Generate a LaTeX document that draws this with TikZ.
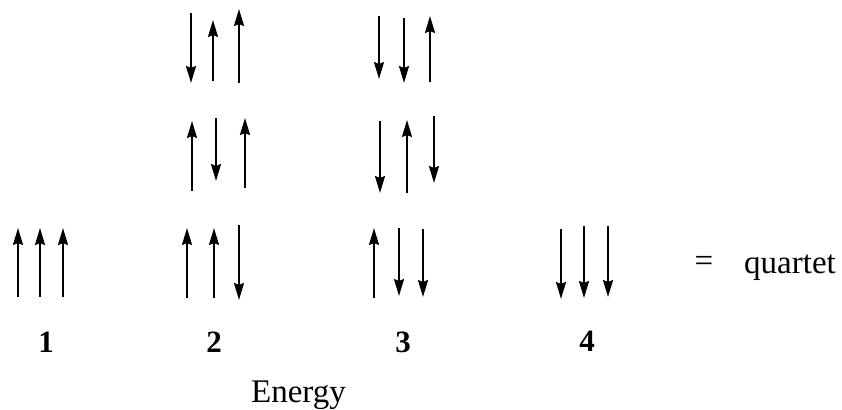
\documentclass[tikz,border=0pt]{standalone}
\usepackage{fontspec}
\setmainfont{Liberation Serif}
\usetikzlibrary{arrows.meta}
\newcommand\spinarrow[4]{%
  \coordinate (#1s) at (#2,#3);
  \coordinate (#1e) at (#2,#4);
  \draw[spin] (#1s) -- (#1e);}
\begin{document}
\begin{tikzpicture}[x=1pt,y=-1pt,
  spin/.style={line width=2pt,-{Stealth[length=17pt,width=10pt,inset=2pt]}},
  txt/.style={font=\fontsize{33}{40}\selectfont,inner sep=0pt,anchor=base},
  num/.style={font=\fontsize{31}{38}\selectfont\bfseries,inner sep=0pt,anchor=base}]
\useasboundingbox (0,0) rectangle (842,409);
% column 1
\spinarrow{a1}{18}{297}{228}
\spinarrow{a2}{40}{297}{228}
\spinarrow{a3}{63}{297}{228}
% column 2 bottom
\spinarrow{b1}{187}{298}{228}
\spinarrow{b2}{214}{298}{228}
\spinarrow{b3}{239}{225}{300}
% column 2 middle
\spinarrow{c1}{192}{191}{121}
\spinarrow{c2}{216}{118}{181}
\spinarrow{c3}{245}{188}{118}
% column 2 top
\spinarrow{d1}{191}{13}{83}
\spinarrow{d2}{213}{81}{20}
\spinarrow{d3}{239}{83}{9}
% column 3 bottom
\spinarrow{e1}{374}{298}{228}
\spinarrow{e2}{399}{228}{296}
\spinarrow{e3}{423}{229}{297}
% column 3 middle
\spinarrow{f1}{380}{121}{193}
\spinarrow{f2}{407}{193}{120}
\spinarrow{f3}{434}{116}{183}
% column 3 top
\spinarrow{g1}{379}{16}{79}
\spinarrow{g2}{404}{18}{83}
\spinarrow{g3}{430}{82}{16}
% column 4
\spinarrow{h1}{561}{229}{299}
\spinarrow{h2}{584}{226}{298}
\spinarrow{h3}{608}{226}{297}
% labels
\node[num] (l1) at (46,352) {1};
\node[num] (l2) at (214,352) {2};
\node[num] (l3) at (403,352) {3};
\node[num] (l4) at (587,351) {4};
\node[txt] (eq) at (704,271) {=};
\node[txt] (q) at (790,273) {quartet};
\node[txt] (en) at (298.5,402) {Energy};
\end{tikzpicture}
\end{document}
